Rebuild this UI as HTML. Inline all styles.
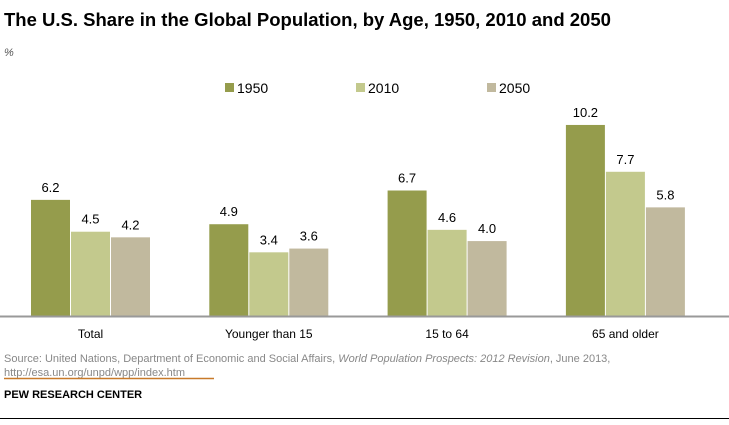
<!DOCTYPE html>
<html><head><meta charset="utf-8"><style>
body{margin:0;background:#fff;width:729px;height:420px;overflow:hidden;font-family:"Liberation Sans",sans-serif;}
</style></head><body>
<svg width="729" height="420" id="c">
<text x="4" y="26" font-size="18.5" font-weight="bold" fill="#000">The U.S. Share in the Global Population, by Age, 1950, 2010 and 2050</text>
<text x="4" y="56" font-size="11" font-style="italic" fill="#555">%</text>
<g>
<rect x="225" y="83" width="9" height="9" fill="#959c4c"/>
<text x="237" y="93" font-size="14" fill="#000">1950</text>
<rect x="356" y="83" width="9" height="9" fill="#c3c98d"/>
<text x="368" y="93" font-size="14" fill="#000">2010</text>
<rect x="487" y="83" width="9" height="9" fill="#c1b99e"/>
<text x="499" y="93" font-size="14" fill="#000">2050</text>
</g>
<g id="bars"></g>
<line x1="0" y1="316.5" x2="729" y2="316.5" stroke="#999" stroke-width="2"/>
<text x="4" y="362" font-size="11" fill="#888">Source: United Nations, Department of Economic and Social Affairs, <tspan font-style="italic">World Population Prospects: 2012 Revision</tspan>, June 2013,</text>
<text x="4" y="376" font-size="11" fill="#888">http://esa.un.org/unpd/wpp/index.htm</text>
<line x1="4" y1="378.5" x2="214" y2="378.5" stroke="#c87a2a" stroke-width="1.5"/>
<text x="4" y="398" font-size="11" font-weight="bold" fill="#000">PEW RESEARCH CENTER</text>
<line x1="0" y1="418.5" x2="729" y2="418.5" stroke="#000" stroke-width="1"/>
</svg>
<script>
const categories=["Total","Younger than 15","15 to 64","65 and older"];
const series1950=[6.2,4.9,6.7,10.2];
const series2010=[4.5,3.4,4.6,7.7];
const series2050=[4.2,3.6,4.0,5.8];
const seriesNames=["1950","2010","2050"];
const colors=["#959c4c","#c3c98d","#c1b99e"];
const base=316, k=18.73, bw=39, gx0=31, gstep=178.3;
const y=v=>base-v*k;
const g=document.getElementById('bars');
const NS="http://www.w3.org/2000/svg";
[series1950,series2010,series2050].forEach((s,si)=>{
 s.forEach((v,ci)=>{
  const x=gx0+ci*gstep+si*40;
  const r=document.createElementNS(NS,'rect');
  r.setAttribute('x',x);r.setAttribute('y',y(v));r.setAttribute('width',bw);r.setAttribute('height',base-y(v));r.setAttribute('fill',colors[si]);
  
  
  g.appendChild(r);
  const t=document.createElementNS(NS,'text');
  t.setAttribute('x',x+bw/2);t.setAttribute('y',y(v)-8);t.setAttribute('text-anchor','middle');t.setAttribute('font-size','13');t.setAttribute('fill','#000');
  t.textContent=v.toFixed(1);
  
  
  g.appendChild(t);
 });
});
categories.forEach((c,ci)=>{
 const t=document.createElementNS(NS,'text');
 t.setAttribute('x',gx0+ci*gstep+59.5);t.setAttribute('y',338);t.setAttribute('text-anchor','middle');t.setAttribute('font-size','12');t.setAttribute('fill','#000');
 t.textContent=c;
 
 
 g.appendChild(t);
});
</script>
</body></html>
